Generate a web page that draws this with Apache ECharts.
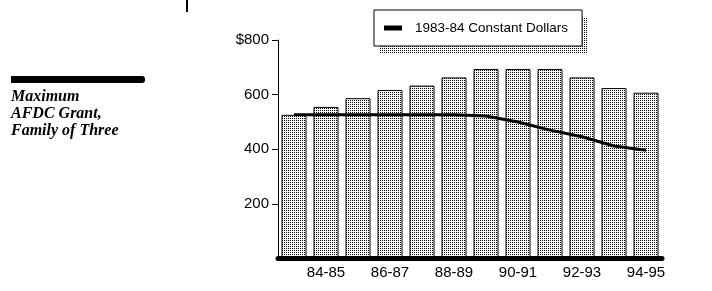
<!DOCTYPE html>
<html>
<head>
<meta charset="utf-8">
<script src="https://cdn.jsdelivr.net/npm/echarts@6/dist/echarts.min.js"></script>
<style>
html,body{margin:0;padding:0;background:#fff;}
#chart{width:712px;height:291px;}
</style>
</head>
<body>
<div id="chart"></div>
<script>
const categories = ['83-84','84-85','85-86','86-87','87-88','88-89','89-90','90-91','91-92','92-93','93-94','94-95'];
const grantValues = [526, 555, 587, 617, 633, 663, 694, 694, 694, 663, 624, 607];
const constantValues = [526, 526, 526, 526, 526, 526, 522, 500, 470, 446, 412, 396];
const yTickValues = [200, 400, 600, 800];
const yTickLabels = ['200', '400', '600', '$800'];
const legendLabel = '1983-84 Constant Dollars';
const sideTitle = ['Maximum', 'AFDC Grant,', 'Family of Three'];

function makePattern() {
  const c = document.createElement('canvas');
  c.width = 2; c.height = 2;
  const ctx = c.getContext('2d');
  ctx.fillStyle = '#fff';
  ctx.fillRect(0, 0, 2, 2);
  ctx.fillStyle = '#000';
  ctx.fillRect(0, 0, 1, 1);
  return c;
}
const pat = makePattern();

const chart = echarts.init(document.getElementById('chart'), null, {renderer: 'canvas'});
chart.setOption({
  animation: false,
  backgroundColor: '#fff',
  grid: {left: 278, right: 50, top: 40, bottom: 32.5},
  legend: {
    data: [legendLabel],
    left: 374, top: 10,
    padding: [10, 14, 10, 10],
    itemWidth: 18, itemHeight: 5,
    icon: 'rect',
    backgroundColor: '#fff',
    borderColor: '#000', borderWidth: 1,
    z: 5,
    selectedMode: false,
    textStyle: {fontFamily: 'Liberation Sans', fontSize: 13.5, color: '#000', lineHeight: 16, padding: [0, 0, 0, 8]}
  },
  xAxis: {
    type: 'category',
    data: categories,
    boundaryGap: true,
    z: 5,
    axisLine: {lineStyle: {color: '#000', width: 5}},
    axisTick: {show: false},
    axisLabel: {
      interval: (i) => i % 2 === 1,
      margin: 7,
      fontFamily: 'Liberation Sans', fontSize: 15, color: '#000'
    },
    splitLine: {show: false}
  },
  yAxis: {
    type: 'value',
    min: 0, max: 800, interval: 200,
    axisLine: {show: true, lineStyle: {color: '#000', width: 1}},
    axisTick: {show: true, length: 6, customValues: yTickValues, lineStyle: {color: '#000'}},
    axisLabel: {
      margin: 9,
      customValues: yTickValues,
      fontFamily: 'Liberation Sans', fontSize: 15, color: '#000',
      formatter: (v) => { const k = yTickValues.indexOf(v); return k >= 0 ? yTickLabels[k] : ''; }
    },
    splitLine: {show: false}
  },
  graphic: [
    {type: 'rect', z: 0, shape: {x: 380, y: 17, width: 208, height: 36}, style: {fill: {image: pat, repeat: 'repeat'}}},
    {type: 'rect', shape: {x: 11, y: 76, width: 134, height: 7, r: [0, 3, 3, 0]}, style: {fill: '#000'}},
    {type: 'rect', shape: {x: 186, y: 0, width: 2, height: 12}, style: {fill: '#000'}},
    {type: 'text', left: 11, top: 88, style: {
      text: sideTitle.join('\n'),
      font: 'italic bold 16px "Liberation Serif"',
      lineHeight: 17, fill: '#000'
    }}
  ],
  series: [
    {
      name: 'Maximum AFDC Grant',
      type: 'bar',
      data: grantValues,
      barWidth: 25,
      itemStyle: {color: {image: pat, repeat: 'repeat'}, borderColor: '#000', borderWidth: 1}
    },
    {
      name: legendLabel,
      type: 'line',
      data: constantValues,
      symbol: 'none',
      z: 4,
      itemStyle: {color: '#000'},
      lineStyle: {color: '#000', width: 3}
    }
  ]
});
</script>
</body>
</html>
